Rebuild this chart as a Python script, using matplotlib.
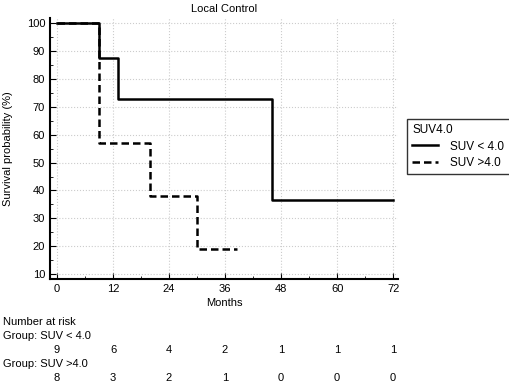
import numpy as np
import matplotlib
matplotlib.use("Agg")
from matplotlib import pyplot as plt
from matplotlib.ticker import MultipleLocator

plt.rcParams['font.family'] = ['Liberation Sans', 'DejaVu Sans']
plt.rcParams['font.size'] = 8

# Kaplan-Meier step data (months, survival %)
low_t = [0, 9, 13, 46, 72]
low_s = [100, 87.5, 72.7, 36.4, 36.4]
high_t = [0, 9, 20, 30, 38.5]
high_s = [100, 57.1, 38.1, 19.0, 19.0]

risk_times = [0, 12, 24, 36, 48, 60, 72]
risk_low = [9, 6, 4, 2, 1, 1, 1]
risk_high = [8, 3, 2, 1, 0, 0, 0]

fig = plt.figure(figsize=(5.10, 3.84), dpi=100)
ax = fig.add_axes([0.098, 0.273, 0.682, 0.680])

ax.step(high_t, high_s, where='post', color='black', lw=1.8, ls=(0, (3, 1.6)),
        label='SUV >4.0', zorder=3)
ax.step(low_t, low_s, where='post', color='black', lw=1.8, ls='-',
        label='SUV < 4.0', zorder=4)

ax.set_xlim(-1.5, 73)
ax.set_ylim(8.2, 101.8)
ax.xaxis.set_major_locator(MultipleLocator(12))
ax.xaxis.set_minor_locator(MultipleLocator(6))
ax.yaxis.set_major_locator(MultipleLocator(10))
ax.yaxis.set_minor_locator(MultipleLocator(5))
ax.tick_params(which='both', direction='in', color='black')
ax.tick_params(which='major', length=4)
ax.tick_params(which='minor', length=2)
ax.grid(True, which='major', color='#cccccc', ls=':', lw=0.8)
for s in ['top', 'right']:
    ax.spines[s].set_visible(False)
for s in ['left', 'bottom']:
    ax.spines[s].set_linewidth(1.5)

ax.set_title('Local Control', fontsize=8, pad=4)
ax.set_xlabel('Months', labelpad=3)
ax.set_ylabel('Survival probability (%)', labelpad=10)

h, l = ax.get_legend_handles_labels()
leg = ax.legend(h[::-1], [s + '  ' for s in l[::-1]], title='SUV4.0', loc='upper left',
                bbox_to_anchor=(1.026, 0.613), frameon=True, fancybox=False,
                edgecolor='black', handlelength=2.2, borderpad=0.45,
                labelspacing=0.35, handletextpad=1.0, fontsize=8.5, title_fontsize=8.5,
                borderaxespad=0)
leg._legend_box.align = 'left'
leg.get_frame().set_linewidth(1.0)

# number at risk table
fig.text(3 / 510, 1 - 322 / 384, 'Number at risk', va='center', ha='left')
fig.text(3 / 510, 1 - 336 / 384, 'Group: SUV < 4.0', va='center', ha='left')
fig.text(3 / 510, 1 - 364 / 384, 'Group: SUV >4.0', va='center', ha='left')
for t, a, b in zip(risk_times, risk_low, risk_high):
    xf, _ = fig.transFigure.inverted().transform(ax.transData.transform((t, 0)))
    fig.text(xf, 1 - 350 / 384, str(a), va='center', ha='center')
    fig.text(xf, 1 - 378 / 384, str(b), va='center', ha='center')

fig.savefig('out.png', dpi=100)
